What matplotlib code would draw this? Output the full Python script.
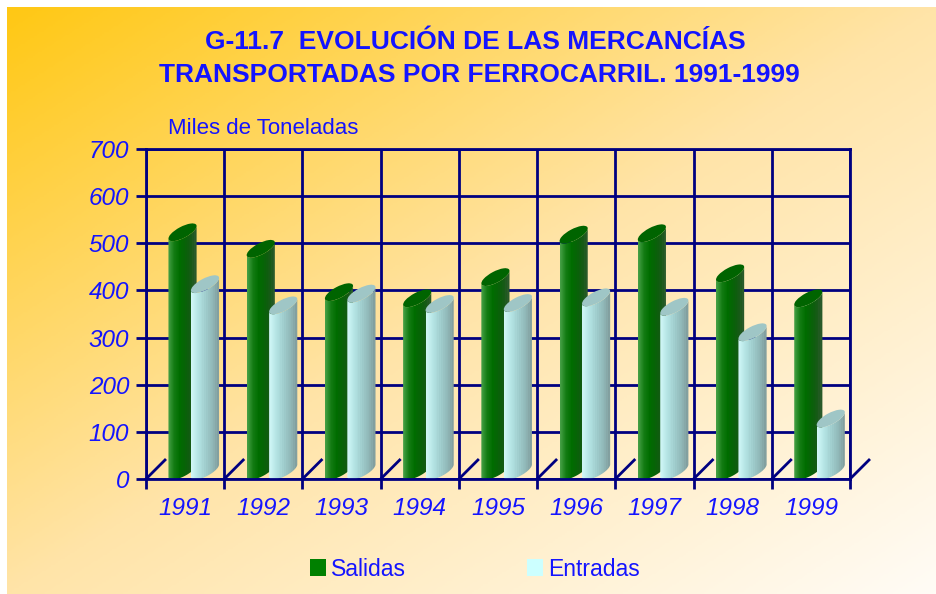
import numpy as np
import matplotlib.pyplot as plt
from matplotlib.colors import LinearSegmentedColormap
from matplotlib.patches import Ellipse, PathPatch, Patch
from matplotlib.path import Path
from matplotlib.transforms import IdentityTransform
from matplotlib.lines import Line2D

plt.rcParams['font.family'] = ['Liberation Sans', 'DejaVu Sans']

# data (miles de toneladas)
years = ['1991', '1992', '1993', '1994', '1995', '1996', '1997', '1998', '1999']
salidas = [510, 475, 383, 370, 415, 505, 508, 423, 370]
entradas = [400, 355, 380, 358, 360, 372, 352, 298, 115]
y_ticks = [0, 100, 200, 300, 400, 500, 600, 700]

BLUE = '#1414ff'
NAVY = '#000080'
W, H = 937, 594

fig = plt.figure(figsize=(W / 100, H / 100), dpi=100)
fig.patch.set_facecolor('white')

# background gradient (orange top-left -> cream bottom-right)
bg = fig.add_axes([7 / W, 0, 1 - 7 / W, 1 - 7 / H], zorder=-10)
gx, gy = np.meshgrid(np.linspace(0, 1, 400), np.linspace(0, 1, 300))
bg_cmap = LinearSegmentedColormap.from_list('bg', ['#ffc814', '#ffe4a8', '#fffcf6'])
bg.imshow((gx + gy) / 2, cmap=bg_cmap, aspect='auto', extent=(0, 1, 0, 1), origin='upper')
bg.axis('off')

# main axes
ax = fig.add_axes([146 / W, 115 / H, 704 / W, 330 / H])
ax.patch.set_visible(False)
ax.set_xlim(-0.5, 8.5)
ax.set_ylim(0, 700)
ax.set_autoscale_on(False)
ax.set_axisbelow(True)

ax.set_yticks(y_ticks)
ax.set_yticklabels([str(v) for v in y_ticks], fontsize=17.5, style='italic', color=BLUE)
ax.set_xticks(range(len(years)))
ax.set_xticklabels(years, fontsize=17.5, style='italic', color=BLUE)
ax.set_xticks(np.arange(-0.5, len(years)), minor=True)
ax.tick_params(axis='y', length=7, width=2, color=NAVY, pad=5)
ax.tick_params(axis='x', which='major', length=0, pad=13)
ax.tick_params(axis='x', which='minor', length=7, width=2, color=NAVY)
ax.grid(which='major', axis='y', color=NAVY, lw=2)
ax.grid(which='minor', axis='x', color=NAVY, lw=2)
for s in ax.spines.values():
    s.set_color(NAVY)
    s.set_linewidth(2)
    s.set_zorder(2.5)

green_cmap = LinearSegmentedColormap.from_list(
    'g', ['#46a046', '#137c13', '#006e00', '#066406', '#145a14', '#2e5a2e'])
cyan_cmap = LinearSegmentedColormap.from_list(
    'c', ['#d2f8f8', '#b4e4e4', '#a2d0d0', '#92baba', '#809c9c'])

# vertical stripe texture for the cylinder bodies
ncol = 40
stripe = np.linspace(0, 1, ncol)
stripe = np.clip(stripe + np.where(np.arange(ncol) % 3 == 0, 0.06, 0) * (stripe > 0.35), 0, 1)
stripe = stripe[np.newaxis, :]

ANG = np.radians(28)
RATIO = 0.36


def cylinder(xc, val, width, cmap, top_color, z):
    xl, y0 = ax.transData.transform((xc - width / 2, 0))
    xr, yv = ax.transData.transform((xc + width / 2, val))
    hx = (xr - xl) / 2
    a = hx / np.sqrt(np.cos(ANG) ** 2 + (RATIO * np.sin(ANG)) ** 2)
    b = RATIO * a
    t = np.linspace(0, 2 * np.pi, 360, endpoint=False)
    ex = a * np.cos(t) * np.cos(ANG) - b * np.sin(t) * np.sin(ANG)
    ey = a * np.cos(t) * np.sin(ANG) + b * np.sin(t) * np.cos(ANG)
    il, ir = ex.argmin(), ex.argmax()
    stop = ir if ir > il else ir + 360
    arc = np.arange(il, stop + 1) % 360
    if ey[arc].mean() > 0:
        stop = il if il > ir else il + 360
        arc = (np.arange(ir, stop + 1) % 360)[::-1]
    dyl = ey[il]
    cx = (xl + xr) / 2
    cy = yv - dyl
    cyb = y0 - dyl + 2
    verts = [(xl, y0 + 2), (xl, yv)]
    verts += list(zip(cx + ex[arc], cy + ey[arc]))
    verts += [(xr, y0 + 2 - 2 * dyl)]
    verts += list(zip(cx + ex[arc][::-1], cyb + ey[arc][::-1]))
    verts += [(xl, y0 + 2)]
    body = PathPatch(Path(verts, closed=True), transform=IdentityTransform(),
                     fc='none', ec='none')
    ax.add_patch(body)
    im = ax.imshow(stripe, cmap=cmap, aspect='auto', zorder=z,
                   extent=(xc - width / 2, xc + width / 2, -20, val + 40))
    im.set_clip_path(body)
    im.set_clip_box(None)
    ax.add_patch(Ellipse((cx, cy), 2 * a, 2 * b, angle=np.degrees(ANG),
                         transform=IdentityTransform(), fc=top_color, ec='none',
                         zorder=z + 0.01))


bar_w = 0.36
for i in range(len(years)):
    cylinder(i - 0.033, salidas[i], bar_w, green_cmap, '#006400', 2.0)
    cylinder(i + 0.254, entradas[i], bar_w, cyan_cmap, '#9fc6c6', 2.1)

# floor diagonals
for xb in np.arange(-0.5, len(years)):
    px, py = ax.transData.transform((xb, 0))
    fig.add_artist(Line2D([px, px + 19], [py, py + 19], transform=IdentityTransform(),
                          color=NAVY, lw=2, zorder=5))

fig.text(475 / W, 1 - 42 / H, 'G-11.7  EVOLUCIÓN DE LAS MERCANCÍAS', ha='center', va='center',
         fontsize=19, fontweight='bold', color=BLUE)
fig.text(479 / W, 1 - 75 / H, 'TRANSPORTADAS POR FERROCARRIL. 1991-1999', ha='center',
         va='center', fontsize=19, fontweight='bold', color=BLUE)
fig.text(168 / W, 1 - 129 / H, 'Miles de Toneladas', ha='left', va='center',
         fontsize=16, color=BLUE)

handles = [Patch(fc='#008000', ec='none', label='Salidas'),
           Patch(fc='#ccffff', ec='none', label='Entradas')]
fig.legend(handles=handles, loc='center', bbox_to_anchor=(475 / W, 1 - 569 / H), ncol=2,
           frameon=False, fontsize=16.5, labelcolor=BLUE, handlelength=0.7,
           handleheight=0.7, handletextpad=0.2, columnspacing=5.3)

fig.savefig('out.png', dpi=100)
